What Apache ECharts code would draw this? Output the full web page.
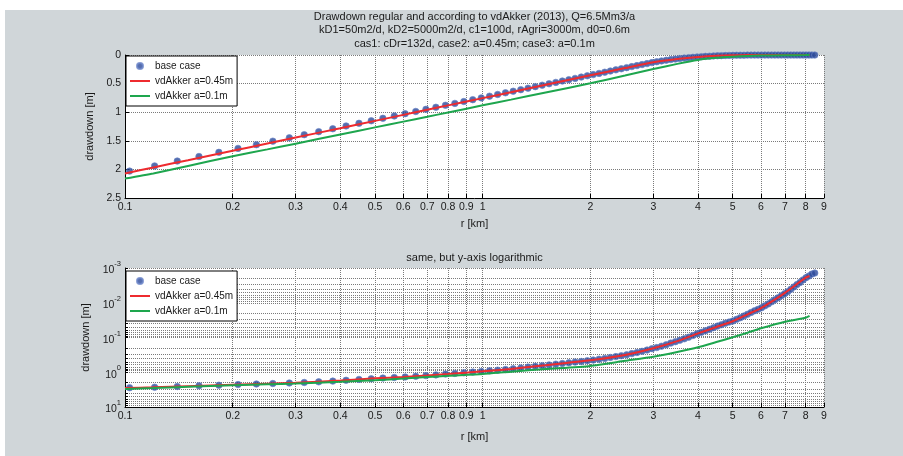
<!DOCTYPE html>
<html><head><meta charset="utf-8">
<script src="https://cdn.jsdelivr.net/npm/echarts@6/dist/echarts.min.js"></script>
<style>html,body{margin:0;padding:0;background:#fff;width:903px;height:456px;overflow:hidden}
#c{position:absolute;left:5px;top:10px;width:898px;height:446px}</style>
</head><body><div id="c"></div>
<script>
// radius of base-case points [km]
const rBase = [
0.103,0.121,0.140,0.161,0.183,0.207,0.233,0.259,0.288,0.317,
0.348,0.381,0.415,0.451,0.488,0.526,0.566,0.607,0.650,0.694,
0.740,0.787,0.836,0.886,0.938,0.991,1.045,1.101,1.158,1.217,
1.278,1.339,1.403,1.467,1.533,1.601,1.670,1.741,1.813,1.886,
1.961,2.037,2.115,2.194,2.275,2.357,2.441,2.526,2.612,2.700,
2.790,2.881,2.973,3.067,3.162,3.259,3.357,3.457,3.558,3.661,
3.765,3.870,3.977,4.086,4.196,4.307,4.420,4.534,4.650,4.767,
4.885,5.006,5.127,5.250,5.375,5.500,5.628,5.757,5.887,6.019,
6.152,6.287,6.423,6.560,6.699,6.840,6.982,7.125,7.270,7.416,
7.564,7.713,7.864,8.016,8.170,8.325,8.481];
// base case drawdown, upper panel [m]
const baseTop = [
2.030,1.939,1.854,1.775,1.702,1.633,1.568,1.506,1.448,1.393,
1.340,1.289,1.241,1.194,1.150,1.107,1.066,1.026,0.987,0.950,
0.914,0.879,0.846,0.813,0.781,0.750,0.720,0.690,0.661,0.633,
0.606,0.580,0.553,0.528,0.503,0.479,0.455,0.432,0.409,0.386,
0.364,0.343,0.322,0.301,0.280,0.260,0.241,0.221,0.203,0.185,
0.167,0.150,0.133,0.117,0.103,0.091,0.080,0.071,0.062,0.054,
0.047,0.040,0.034,0.029,0.024,0.020,0.016,0.013,0.011,0.009,
0.007,0.005,0.004,0.003,0.003,0.002,0.002,0.002,0.002,0.001,
0.001,0.001,0.001,0.001,0.001,0.001,0.001,0.001,0.001,0.001,
0.001,0.001,0.001,0.001,0.001,0.001,0.001];
// base case drawdown, lower (log) panel [m]
const baseLog = [
2.79,2.70,2.58,2.46,2.36,2.26,2.18,2.11,2.04,1.97,
1.89,1.80,1.70,1.61,1.54,1.47,1.42,1.37,1.31,1.25,
1.19,1.13,1.08,1.04,0.99,0.95,0.91,0.87,0.83,0.79,
0.75,0.71,0.675,0.645,0.615,0.585,0.56,0.535,0.51,0.49,
0.465,0.445,0.42,0.40,0.375,0.355,0.335,0.315,0.29,0.27,
0.25,0.23,0.21,0.195,0.178,0.162,0.145,0.132,0.12,0.109,
0.098,0.088,0.078,0.071,0.064,0.058,0.052,0.047,0.043,0.039,
0.036,0.0335,0.030,0.027,0.024,0.0215,0.019,0.017,0.0155,0.014,
0.0123,0.0108,0.0094,0.0082,0.0072,0.0063,0.0055,0.0048,0.0041,0.0035,
0.0030,0.0026,0.0022,0.0019,0.0017,0.0015,0.0014];
// radius of line series [km]
const rLine = [0.1,0.12,0.15,0.2,0.25,0.3,0.4,0.5,0.6,0.7,0.8,1,1.2,1.5,2,2.5,3,3.5,4,4.5,5,5.5,6,7,8,8.2];
const redTop = [2.07,1.965,1.84,1.675,1.548,1.443,1.28,1.152,1.047,0.958,0.881,0.754,0.65,0.52,0.355,0.228,0.125,0.068,0.033,0.013,0.005,0.002,0.001,0.001,0.001,0.001];
const greenTop = [2.16,2.07,1.94,1.77,1.65,1.55,1.39,1.265,1.165,1.08,1.005,0.88,0.78,0.655,0.495,0.36,0.245,0.155,0.087,0.05,0.03,0.018,0.01,0.004,0.002,0.001];
const redLog = [2.85,2.72,2.52,2.28,2.13,2.01,1.74,1.50,1.38,1.24,1.12,0.94,0.80,0.63,0.455,0.32,0.205,0.127,0.076,0.050,0.034,0.0215,0.0142,0.0052,0.0019,0.0017];
const greenLog = [3.03,2.85,2.62,2.38,2.22,2.10,1.88,1.69,1.52,1.38,1.27,1.13,0.96,0.81,0.66,0.47,0.357,0.26,0.191,0.135,0.0986,0.073,0.0543,0.0351,0.027,0.024];
// ticks
const xTicks = [0.1,0.2,0.3,0.4,0.5,0.6,0.7,0.8,0.9,1,2,3,4,5,6,7,8,9];
const yTicksLogMajor = [0.001,0.01,0.1,1,10];
const yTicksLogAll = [0.001,0.002,0.003,0.004,0.005,0.006,0.007,0.008,0.009,
  0.01,0.02,0.03,0.04,0.05,0.06,0.07,0.08,0.09,
  0.1,0.2,0.3,0.4,0.5,0.6,0.7,0.8,0.9,
  1,2,3,4,5,6,7,8,9,10];
const seriesNames = ['base case','vdAkker a=0.45m','vdAkker a=0.1m'];
const titleLines = ['Drawdown regular and according to vdAkker (2013), Q=6.5Mm3/a',
  'kD1=50m2/d, kD2=5000m2/d, c1=100d, rAgri=3000m, d0=0.6m',
  'cas1: cDr=132d, case2: a=0.45m; case3: a=0.1m'];
const subTitle = 'same, but y-axis logarithmic';

const FONT = '"Liberation Sans", Arial, Helvetica, sans-serif';
const TXT = '#1a1a1a';
const BLUE = '#2a4899', RED = '#ee2b2f', GREEN = '#1ea64e';
const LINE_ICON = 'path://M0 0H20V2H0Z';
function pairs(xs, ys){ return xs.map((x,i)=>[x, ys[i]]); }
const gridLine = {show:true, lineStyle:{type:'dotted', color:'#7a7a7a', width:1}};

function xAxis(gi, gap){ return {
  type:'log', logBase:10, gridIndex:gi, min:0.1, max:9,
  name:'r [km]', nameLocation:'middle', nameGap:gap,
  nameTextStyle:{fontFamily:FONT,fontSize:11,color:TXT},
  axisLine:{show:true, onZero:false, lineStyle:{color:'#000',width:1}},
  axisTick:{show:true, inside:true, length:4, customValues:xTicks, lineStyle:{color:'#000'}},
  axisLabel:{show:true, customValues:xTicks, margin:4, fontFamily:FONT, fontSize:10.5, color:TXT,
    formatter: v => String(Math.round(v*100)/100)},
  splitLine: gridLine
};}

const option = {
  backgroundColor:'#d0d6d9',
  animation:false,
  title:[
    {text:titleLines.join('\n'), left:469.5, top:0, padding:0, textAlign:'center',
     textStyle:{fontFamily:FONT, fontSize:11, fontWeight:'normal', lineHeight:13.5, color:TXT}},
    {text:subTitle, left:469.5, top:241, padding:0, textAlign:'center',
     textStyle:{fontFamily:FONT, fontSize:11, fontWeight:'normal', lineHeight:13.5, color:TXT}}
  ],
  grid:[
    {left:120, top:45, width:699, height:143, show:true, backgroundColor:'#fff', borderWidth:0},
    {left:120, top:258, width:699, height:139, show:true, backgroundColor:'#fff', borderWidth:0}
  ],
  legend:[0,1].map(i => ({
    data:[{name:seriesNames[0], icon:'circle'},
          {name:seriesNames[1], icon:LINE_ICON},
          {name:seriesNames[2], icon:LINE_ICON}],
    orient:'vertical', left:121, top: i===0 ? 46 : 261,
    backgroundColor:'#fff', borderColor:'#000', borderWidth:1, borderRadius:0,
    padding:[5,4,5,4], itemGap:5, itemWidth:20, itemHeight:6,
    textStyle:{fontFamily:FONT, fontSize:10, color:TXT, lineHeight:10},
    selectedMode:false
  })),
  xAxis:[xAxis(0, 20), xAxis(1, 24)],
  yAxis:[
    {type:'value', gridIndex:0, inverse:true, min:0, max:2.5, interval:0.5,
     name:'drawdown [m]', nameLocation:'middle', nameGap:19,
     nameTextStyle:{fontFamily:FONT,fontSize:11,color:TXT},
     axisLine:{show:true, onZero:false, lineStyle:{color:'#000',width:1}},
     axisTick:{show:true, inside:true, length:4, lineStyle:{color:'#000'}},
     axisLabel:{margin:4, fontFamily:FONT, fontSize:10.5, color:TXT},
     splitLine: gridLine},
    {type:'log', logBase:10, gridIndex:1, inverse:true, min:0.001, max:10,
     name:'drawdown [m]', nameLocation:'middle', nameGap:24,
     nameTextStyle:{fontFamily:FONT,fontSize:11,color:TXT},
     axisLine:{show:true, onZero:false, lineStyle:{color:'#000',width:1}},
     axisTick:{show:true, inside:true, length:3, customValues:yTicksLogAll, lineStyle:{color:'#000'}},
     axisLabel:{margin:4, customValues:yTicksLogMajor, fontFamily:FONT, fontSize:10.5, color:TXT,
       formatter: v => '{b|10}{e|' + Math.round(Math.log10(v)) + '}',
       rich:{b:{fontFamily:FONT,fontSize:10.5,color:TXT,lineHeight:16,verticalAlign:'bottom'},
             e:{fontFamily:FONT,fontSize:7.5,color:TXT,lineHeight:6,verticalAlign:'top'}}},
     splitLine: gridLine}
  ],
  series:[
    {name:seriesNames[0], type:'scatter', xAxisIndex:0, yAxisIndex:0, data:pairs(rBase, baseTop),
     symbol:'circle', symbolSize:6.5, itemStyle:{color:BLUE, borderColor:'#6a85c8', borderWidth:0.8}},
    {name:seriesNames[1], type:'line', xAxisIndex:0, yAxisIndex:0, data:pairs(rLine, redTop),
     symbol:'none', smooth:0.2, lineStyle:{color:RED, width:2}, itemStyle:{color:RED}},
    {name:seriesNames[2], type:'line', xAxisIndex:0, yAxisIndex:0, data:pairs(rLine, greenTop),
     symbol:'none', smooth:0.2, lineStyle:{color:GREEN, width:2}, itemStyle:{color:GREEN}},
    {name:seriesNames[0], type:'scatter', xAxisIndex:1, yAxisIndex:1, data:pairs(rBase, baseLog),
     symbol:'circle', symbolSize:6.5, itemStyle:{color:BLUE, borderColor:'#6a85c8', borderWidth:0.8}},
    {name:seriesNames[1], type:'line', xAxisIndex:1, yAxisIndex:1, data:pairs(rLine, redLog),
     symbol:'none', smooth:0.2, lineStyle:{color:RED, width:2}, itemStyle:{color:RED}},
    {name:seriesNames[2], type:'line', xAxisIndex:1, yAxisIndex:1, data:pairs(rLine, greenLog),
     symbol:'none', smooth:0.2, lineStyle:{color:GREEN, width:2}, itemStyle:{color:GREEN}}
  ]
};
const chart = echarts.init(document.getElementById('c'));
chart.setOption(option);
</script></body></html>
